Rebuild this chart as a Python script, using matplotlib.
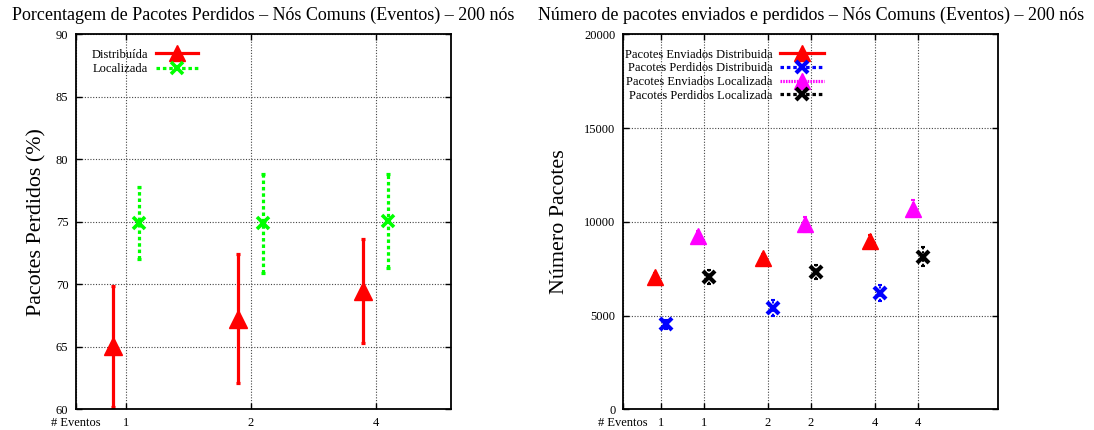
import matplotlib
matplotlib.use("Agg")
import matplotlib.pyplot as plt
from matplotlib.lines import Line2D

plt.rcParams['font.family'] = ['Liberation Serif', 'DejaVu Serif']

# ---- data: left chart (percentage of lost packets) ----
eventos = ['1', '2', '4']
dist_perc = [65.05, 67.24, 69.49]
dist_perc_err = [4.83, 5.16, 4.16]
loc_perc = [74.88, 74.87, 75.05]
loc_perc_err = [2.88, 3.93, 3.78]

# ---- data: right chart (sent / lost packets) ----
env_dist = [7050, 8050, 9000]
env_dist_err = [200, 250, 300]
perd_dist = [4530, 5420, 6220]
perd_dist_err = [250, 420, 420]
env_loc = [9250, 9870, 10700]
env_loc_err = [250, 400, 450]
perd_loc = [7040, 7340, 8140]
perd_loc_err = [380, 370, 520]

W, H = 1094, 430
fig = plt.figure(figsize=(W / 100, H / 100), dpi=100)
ax1 = fig.add_axes([76 / W, 1 - 409.3 / H, 375 / W, 375 / H])
ax2 = fig.add_axes([623.3 / W, 1 - 409.3 / H, 375 / W, 375 / H])

GREEN = '#00ff00'
dot = (0, (1.1, 0.9))
FS = 9


def style_axes(ax):
    ax.grid(True, color='#444444', linestyle=(0, (1, 1.5)), linewidth=0.8)
    ax.set_axisbelow(True)
    for s in ax.spines.values():
        s.set_linewidth(1.3)
    ax.tick_params(direction='in', length=4, width=1, top=True, right=True,
                   labelsize=FS, pad=5.5)
    ax.tick_params(axis='x', pad=5.5)


def errbar(ax, x, y, err, color, marker, ms, mew, ls, lw):
    eb = ax.errorbar(x, y, yerr=err, fmt='none', ecolor=color, elinewidth=lw,
                     capsize=1.5, capthick=lw)
    eb[2][0].set_linestyle(ls)
    ax.plot(x, y, linestyle='none', marker=marker, color=color, ms=ms,
            mew=mew, zorder=5)


# ---- left chart ----
pos = list(range(1, len(eventos) + 1))
style_axes(ax1)
errbar(ax1, [p - 0.1 for p in pos], dist_perc, dist_perc_err, 'red', '^', 13, 1, '-', 2.3)
errbar(ax1, [p + 0.1 for p in pos], loc_perc, loc_perc_err, GREEN, 'x', 8, 2.6, dot, 2.3)
ax1.set_xlim(0.6, 3.6)
ax1.set_ylim(60, 90)
ax1.set_yticks(range(60, 91, 5))
ax1.set_xticks([0.6] + pos)
ax1.set_xticklabels(['# Eventos'] + eventos)
ax1.set_title('Porcentagem de Pacotes Perdidos – Nós Comuns (Eventos) – 200 nós',
              fontsize=13.0, pad=10)
ax1.set_ylabel('Pacotes Perdidos (%)', fontsize=15.8)
ax1.yaxis.set_label_coords(-0.08, 0.5)
h1 = [Line2D([], [], color='red', lw=2.3, marker='^', ms=12),
      Line2D([], [], color=GREEN, lw=2.3, ls=dot, marker='x', ms=8, mew=2.6)]
ax1.legend(h1, ['Distribuída', 'Localizada'], loc='upper left',
           bbox_to_anchor=(0.042, 0.962), frameon=False, markerfirst=False,
           fontsize=FS, handlelength=3.4, handletextpad=0.6,
           labelspacing=0.2, borderpad=0, borderaxespad=0)

# ---- right chart ----
style_axes(ax2)
errbar(ax2, [p - 0.25 for p in pos], env_dist, env_dist_err, 'red', '^', 12, 1, '-', 1.5)
errbar(ax2, [p - 0.15 for p in pos], perd_dist, perd_dist_err, 'blue', 'x', 9, 3, dot, 1.5)
errbar(ax2, [p + 0.15 for p in pos], env_loc, env_loc_err, 'magenta', '^', 12, 1, dot, 1.5)
errbar(ax2, [p + 0.25 for p in pos], perd_loc, perd_loc_err, 'black', 'x', 9, 3, dot, 1.5)
ax2.set_xlim(0.45, 3.95)
ax2.set_ylim(0, 20000)
ax2.set_yticks(range(0, 20001, 5000))
ticks2 = [0.45]
labels2 = ['# Eventos']
for p, e in zip(pos, eventos):
    ticks2 += [p - 0.2, p + 0.2]
    labels2 += [e, e]
ax2.set_xticks(ticks2)
ax2.set_xticklabels(labels2)
ax2.set_title('Número de pacotes enviados e perdidos – Nós Comuns (Eventos) – 200 nós',
              fontsize=13.0, pad=10)
ax2.set_ylabel('Número Pacotes', fontsize=15.8)
ax2.yaxis.set_label_coords(-0.145, 0.5)
h2 = [Line2D([], [], color='red', lw=2.3, marker='^', ms=11),
      Line2D([], [], color='blue', lw=2.3, ls=dot, marker='x', ms=9, mew=3),
      Line2D([], [], color='magenta', lw=2.3, ls=(0, (0.5, 0.35)), marker='^', ms=11),
      Line2D([], [], color='black', lw=2.3, ls=dot, marker='x', ms=9, mew=3)]
ax2.legend(h2, ['Pacotes Enviados Distribuida', 'Pacotes Perdidos Distribuida',
                'Pacotes Enviados Localizada', 'Pacotes Perdidos Localizada'],
           loc='upper left', bbox_to_anchor=(0.005, 0.962), frameon=False,
           markerfirst=False, fontsize=FS, handlelength=3.5, handletextpad=0.6,
           labelspacing=0.14, borderpad=0, borderaxespad=0)

fig.savefig('out.png', dpi=100)
